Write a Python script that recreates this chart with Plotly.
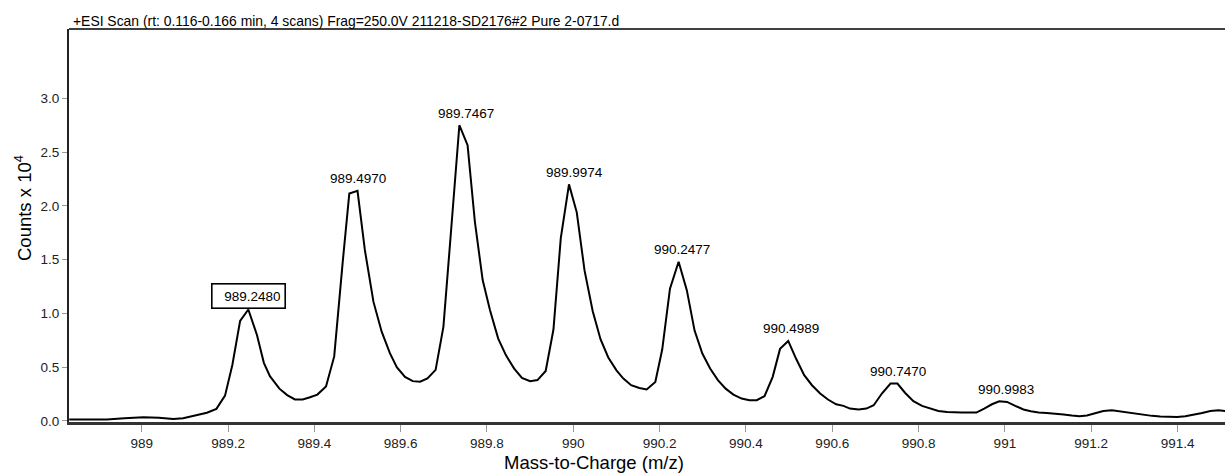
import plotly.graph_objects as go

# Profile spectrum (m/z, counts x 10^4)
mz = [988.832, 988.919, 988.960, 989.004, 989.040, 989.073, 989.096, 989.127, 989.151, 989.173,
      989.193, 989.210, 989.228, 989.247, 989.267, 989.283, 989.297, 989.319, 989.337, 989.355,
      989.373, 989.390, 989.407, 989.427, 989.446, 989.466, 989.481, 989.500, 989.517, 989.537,
      989.556, 989.575, 989.591, 989.610, 989.628, 989.645, 989.662, 989.681, 989.699, 989.715,
      989.736, 989.755, 989.772, 989.790, 989.807, 989.826, 989.844, 989.863, 989.881, 989.900,
      989.917, 989.936, 989.954, 989.971, 989.990, 990.008, 990.026, 990.045, 990.063, 990.081,
      990.100, 990.116, 990.134, 990.153, 990.170, 990.190, 990.206, 990.224, 990.244, 990.263,
      990.281, 990.299, 990.317, 990.335, 990.353, 990.371, 990.390, 990.408, 990.425, 990.443,
      990.462, 990.479, 990.498, 990.516, 990.535, 990.553, 990.572, 990.590, 990.609, 990.626,
      990.641, 990.661, 990.679, 990.696, 990.715, 990.735, 990.751, 990.769, 990.788, 990.808,
      990.827, 990.846, 990.866, 990.885, 990.900, 990.916, 990.934, 990.952, 990.970, 990.987,
      991.005, 991.024, 991.043, 991.060, 991.078, 991.097, 991.117, 991.136, 991.155, 991.173,
      991.190, 991.209, 991.228, 991.248, 991.266, 991.284, 991.302, 991.321, 991.341, 991.360,
      991.379, 991.399, 991.418, 991.437, 991.457, 991.476, 991.495, 991.511]
counts = [0.013, 0.013, 0.025, 0.035, 0.030, 0.018, 0.024, 0.050, 0.076, 0.112,
          0.235, 0.52, 0.93, 1.036, 0.80, 0.54, 0.416, 0.30, 0.24, 0.20,
          0.20, 0.22, 0.245, 0.32, 0.60, 1.49, 2.115, 2.14, 1.59, 1.107,
          0.83, 0.63, 0.50, 0.41, 0.37, 0.365, 0.395, 0.475, 0.875, 1.68,
          2.75, 2.565, 1.85, 1.31, 1.03, 0.766, 0.61, 0.487, 0.40, 0.37,
          0.38, 0.465, 0.85, 1.70, 2.20, 1.94, 1.40, 1.02, 0.76, 0.59,
          0.47, 0.394, 0.332, 0.307, 0.292, 0.363, 0.664, 1.23, 1.48, 1.216,
          0.84, 0.627, 0.487, 0.379, 0.30, 0.245, 0.208, 0.193, 0.193, 0.23,
          0.41, 0.67, 0.744, 0.58, 0.425, 0.332, 0.255, 0.199, 0.155, 0.14,
          0.115, 0.106, 0.115, 0.146, 0.255, 0.348, 0.348, 0.26, 0.183, 0.14,
          0.115, 0.093, 0.084, 0.078, 0.078, 0.078, 0.078, 0.115, 0.155, 0.183,
          0.177, 0.14, 0.106, 0.09, 0.078, 0.074, 0.069, 0.06, 0.05, 0.044,
          0.05, 0.074, 0.093, 0.10, 0.09, 0.074, 0.065, 0.06, 0.047, 0.041,
          0.037, 0.037, 0.044, 0.056, 0.074, 0.093, 0.10, 0.093]

# Peak labels
peak_mz = [989.2480, 989.4970, 989.7467, 989.9974, 990.2477, 990.4989, 990.7470, 990.9983]
peak_height = [1.036, 2.14, 2.75, 2.20, 1.48, 0.744, 0.348, 0.183]
peak_text = ["989.2480", "989.4970", "989.7467", "989.9974", "990.2477", "990.4989", "990.7470", "990.9983"]
boxed_peak = "989.2480"

x_tickvals = [989, 989.2, 989.4, 989.6, 989.8, 990, 990.2, 990.4, 990.6, 990.8, 991, 991.2, 991.4]
x_ticktext = ["989", "989.2", "989.4", "989.6", "989.8", "990", "990.2", "990.4", "990.6", "990.8", "991", "991.2", "991.4"]
y_tickvals = [0.0, 0.5, 1.0, 1.5, 2.0, 2.5, 3.0]

title_text = "+ESI Scan (rt: 0.116-0.166 min, 4 scans) Frag=250.0V 211218-SD2176#2 Pure 2-0717.d"
x_title = "Mass-to-Charge (m/z)"
y_title = "Counts x 10<sup>4</sup>"

FONT = "Liberation Sans, Arial, Helvetica, sans-serif"
W, H = 1225, 474
L, R, T, B = 69, 0, 29, 52
pw, ph = W - L - R, H - T - B

fig = go.Figure()
fig.add_trace(go.Scatter(x=mz, y=counts, mode="lines",
                         line=dict(color="black", width=2), hoverinfo="skip",
                         showlegend=False))

annotations = []
for xv, yv, t in zip(peak_mz, peak_height, peak_text):
    if t == boxed_peak:
        annotations.append(dict(x=xv, y=yv, xref="x", yref="y", text=t, showarrow=False,
                                xanchor="center", yanchor="bottom", yshift=1,
                                font=dict(family=FONT, size=13.5, color="black"),
                                bordercolor="black", borderwidth=1.6, borderpad=4,
                                bgcolor="white", width=64, align="right"))
    else:
        annotations.append(dict(x=xv, y=yv, xref="x", yref="y", text=t, showarrow=False,
                                xanchor="center", yanchor="middle", yshift=12, xshift=2,
                                font=dict(family=FONT, size=13.5, color="black")))

annotations.append(dict(xref="paper", yref="paper", x=(71 - L) / pw, y=(H - B - 21) / ph,
                        text=title_text, showarrow=False, xanchor="left", yanchor="middle",
                        font=dict(family=FONT, size=13.9, color="black")))
annotations.append(dict(xref="paper", yref="paper", x=(594 - L) / pw, y=(H - B - 462) / ph,
                        text=x_title, showarrow=False, xanchor="center", yanchor="middle",
                        font=dict(family=FONT, size=18.5, color="black")))
annotations.append(dict(xref="paper", yref="paper", x=(23 - L) / pw, y=(H - B - 208) / ph,
                        text=y_title, showarrow=False, xanchor="center", yanchor="middle",
                        textangle=-90,
                        font=dict(family=FONT, size=18.5, color="black")))

fig.update_layout(
    width=W, height=H,
    margin=dict(l=L, r=R, t=T, b=B, pad=0),
    paper_bgcolor="white", plot_bgcolor="white",
    annotations=annotations,
    shapes=[dict(type="line", xref="paper", yref="paper", x0=0, x1=1, y0=1, y1=1,
                 line=dict(color="black", width=1.5))],
    font=dict(family=FONT, size=13.5, color="black"),
)
fig.update_xaxes(range=[988.8315, 991.51], tickvals=x_tickvals, ticktext=x_ticktext,
                 showgrid=False, zeroline=False, showline=True, linecolor="#333333",
                 linewidth=2.5, ticks="outside", ticklen=7, tickcolor="#999999",
                 tickwidth=1, tickfont=dict(family=FONT, size=13.5, color="#222222"))
fig.update_yaxes(range=[-0.01, 3.645], tickvals=y_tickvals, tickformat=".1f",
                 showgrid=False, zeroline=False, showline=True, linecolor="#222222",
                 linewidth=2, ticks="outside", ticklen=5, tickcolor="#999999",
                 tickwidth=1, tickfont=dict(family=FONT, size=13.5, color="#222222"))

fig.write_html("out.html")
